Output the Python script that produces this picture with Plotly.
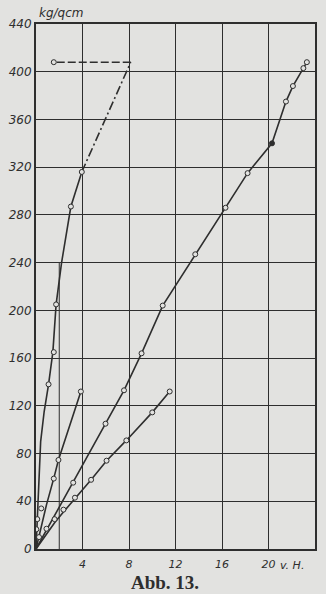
import plotly.graph_objects as go

PAPER = "#e2e2e0"
INK = "#2e2e2e"

# Curve A (steep, left)
a_line_x = [0, 0.15, 0.4, 0.7, 1.08, 1.45, 1.73, 2.2, 3.0, 3.94]
a_line_y = [0, 40, 90, 115, 138, 165, 205, 240, 287, 316]
a_pts_x = [0.03, 0.11, 0.45, 1.08, 1.53, 1.73, 3.0, 3.94]
a_pts_y = [16.5, 25, 34, 138, 165, 205, 287, 316]
a_ext_x = [3.94, 8.15]
a_ext_y = [316, 408]
a_top_x = [8.15, 1.53]
a_top_y = [408, 408]

# Curve B
b_line_x = [0, 0.9, 1.55, 1.93, 3.86]
b_line_y = [0, 37, 60, 74.6, 132]
b_pts_x = [1.53, 1.93, 3.86]
b_pts_y = [59, 74.6, 132]

# Curve C
c_pts_x = [0.26, 0.9, 3.2, 5.98, 7.57, 9.08, 10.9, 13.7, 16.3, 18.2, 21.5, 22.1, 23.0, 23.3]
c_pts_y = [10, 17, 55.6, 105, 133, 164, 204, 247, 286, 315, 375, 388, 403, 408]
c_line_x = [0, 3.2, 5.98, 7.57, 9.08, 10.9, 13.7, 16.3, 18.2, 20.3, 21.5, 22.1, 23.0, 23.3]
c_line_y = [0, 55.6, 105, 133, 164, 204, 247, 286, 315, 340, 375, 388, 403, 408]
c_dot_x = [20.3]
c_dot_y = [340]

# Curve D
d_pts_x = [1.6, 2.36, 3.35, 4.74, 6.07, 7.77, 10.0, 11.5]
d_pts_y = [25, 33, 43, 58, 74, 91, 114.5, 132]
d_line_x = [0, 1.6, 2.36, 3.35, 4.74, 6.07, 7.77, 10.0, 11.5]
d_line_y = [0, 22, 31, 42, 58, 74, 91, 114.5, 132]

x_ticks = [0, 4, 8, 12, 16, 20]
x_ticktext = ["", "<i>4</i>", "<i>8</i>", "<i>12</i>", "<i>16</i>", "<i>20</i>"]
y_ticks = list(range(0, 441, 40))
y_ticktext = ["<i>%d</i>" % v for v in y_ticks]

fig = go.Figure()

def line(x, y, dash="solid"):
    fig.add_trace(go.Scatter(x=x, y=y, mode="lines",
                             line=dict(color=INK, width=1.6, dash=dash),
                             hoverinfo="skip", showlegend=False))

def pts(x, y, fill=PAPER):
    fig.add_trace(go.Scatter(x=x, y=y, mode="markers",
                             marker=dict(symbol="circle", size=5, color=fill,
                                         line=dict(color=INK, width=1)),
                             hoverinfo="skip", showlegend=False))

line(a_line_x, a_line_y)
line(a_ext_x, a_ext_y, dash="9px,3px,2px,3px")
line(a_top_x, a_top_y, dash="8px,3px")
line(b_line_x, b_line_y)
line(c_line_x, c_line_y)
line(d_line_x, d_line_y)

pts(a_pts_x, a_pts_y)
pts([a_top_x[-1]], [a_top_y[-1]])
pts(b_pts_x, b_pts_y)
pts(c_pts_x, c_pts_y)
pts(c_dot_x, c_dot_y, fill=INK)
pts(d_pts_x, d_pts_y)

# extra short grid line at x=2
fig.add_shape(type="line", x0=2, x1=2, y0=0, y1=240, xref="x", yref="y",
              line=dict(color=INK, width=1), layer="below")

fig.update_layout(
    width=326, height=594,
    margin=dict(l=32, r=9, t=24, b=45),
    paper_bgcolor=PAPER, plot_bgcolor=PAPER,
    font=dict(family="DejaVu Sans", color=INK),
    xaxis=dict(range=[0, 24], tickvals=x_ticks, ticktext=x_ticktext,
               showgrid=True, gridcolor=INK, gridwidth=1,
               zeroline=False, showline=True, linecolor=INK, linewidth=2,
               mirror=True, ticks="", ticklabelstandoff=4,
               tickfont=dict(size=11, family="DejaVu Sans"),
               fixedrange=True),
    yaxis=dict(range=[0, 440], tickvals=y_ticks, ticktext=y_ticktext,
               showgrid=True, gridcolor=INK,
               gridwidth=1, zeroline=False, showline=True, linecolor=INK,
               linewidth=2, mirror=True, ticks="",
               tickfont=dict(size=12, family="DejaVu Sans"), fixedrange=True),
    annotations=[
        dict(text="<i>kg/qcm</i>", x=0, y=1, xref="paper", yref="paper",
             xanchor="left", yanchor="bottom", showarrow=False, xshift=1,
             yshift=2, font=dict(size=12, color=INK)),
        dict(text="<i>v. H.</i>", x=20.8, y=0, xref="x", yref="paper",
             xanchor="left", yanchor="top", showarrow=False, yshift=-8,
             font=dict(size=11, color=INK)),
        dict(text="<b>Abb. 13.</b>", x=0.5, y=0, xref="paper", yref="paper",
             xanchor="center", yanchor="top", showarrow=False, yshift=-21,
             xshift=-11, font=dict(size=19, family="Liberation Serif", color=INK)),
    ],
)
fig.write_html("out.html")
